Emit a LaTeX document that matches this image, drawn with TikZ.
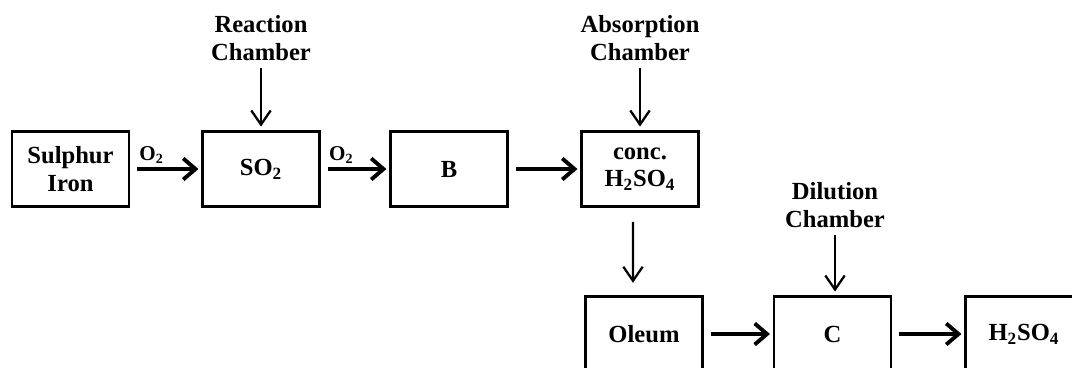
\documentclass[tikz,border=0pt]{standalone}
\usepackage{fontspec}
\setmainfont{Liberation Serif}
\usetikzlibrary{arrows.meta}

\begin{document}
\begin{tikzpicture}[x=0.02cm,y=-0.02cm,font=\fontsize{14}{15.5}\selectfont\bfseries]
\useasboundingbox (0,0) rectangle (1072,368);

\begin{scope}[every node/.style={rectangle,draw,line width=1.6pt,minimum width=2.34cm,minimum height=1.5cm,align=center,inner sep=0pt}]
    \node (S) at (70.5,169) {Sulphur\\Iron};
    \node (SO) at (261,169) {SO\textsubscript{2}};
    \node (B) at (449,169) {B};
    \node (CH) at (640,169) {conc.\\H\textsubscript{2}SO\textsubscript{4}};
    \node (O) at (644,334) {Oleum};
    \node (C) at (832.5,334) {C};
    \node (H) at (1024,334) {H\textsubscript{2}SO\textsubscript{4}};
\end{scope}

\begin{scope}[every node/.style={align=center,inner sep=1pt}]
    \node (RC) at (261,38) {Reaction\\Chamber};
    \node (AC) at (640,38) {Absorption\\Chamber};
    \node (DC) at (835,205) {Dilution\\Chamber};
\end{scope}

\begin{scope}[
              every node/.style={above,inner sep=2pt,font=\fontsize{12}{14}\selectfont\bfseries},
              every edge/.style={draw=black,line width=2.2pt,-{Straight Barb[length=7pt,width=12pt]},
                                 shorten <=4pt,shorten >=1.5pt}]
    \path  (S) edge node[pos=0.3] {O\textsubscript{2}} (SO);
    \path  (SO) edge node[pos=0.3] {O\textsubscript{2}} (B);
    \path  (B) edge (CH);
    \path  (O) edge (C);
    \path  (C) edge (H);
\end{scope}

\begin{scope}[every edge/.style={draw=black,line width=1.3pt,-{Straight Barb[length=8pt,width=11pt]},
                                 shorten <=3pt,shorten >=2pt}]
    \path  (RC) edge (SO);
    \path  (AC) edge (CH);
    \path  (DC) edge (DC |- C.north);
    \path  ([xshift=-0.14cm]CH.south) edge[shorten <=8pt,shorten >=7pt] ([xshift=-0.22cm]O.north);
\end{scope}
\end{tikzpicture}
\end{document}
